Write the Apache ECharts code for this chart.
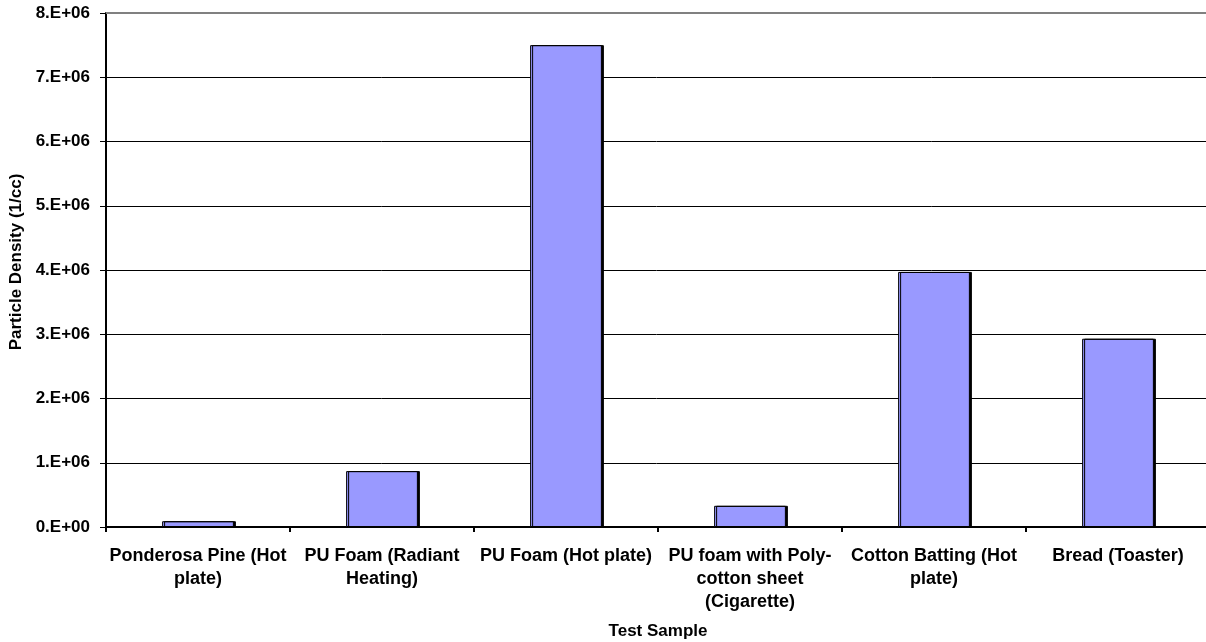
<!DOCTYPE html>
<html>
<head>
<meta charset="utf-8">
<script src="https://cdn.jsdelivr.net/npm/echarts@6/dist/echarts.min.js"></script>
<style>
html,body{margin:0;padding:0;background:#fff;}
#chart{width:1206px;height:642px;}
</style>
</head>
<body>
<div id="chart"></div>
<script>
const categories = [
  "Ponderosa Pine (Hot\nplate)",
  "PU Foam (Radiant\nHeating)",
  "PU Foam (Hot plate)",
  "PU foam with Poly-\ncotton sheet\n(Cigarette)",
  "Cotton Batting (Hot\nplate)",
  "Bread (Toaster)"
];
const particleDensity = [9.0e4, 8.7e5, 7.5e6, 3.3e5, 3.97e6, 2.93e6];
const yMin = 0, yMax = 8e6, yStep = 1e6;
const xTitle = "Test Sample";
const yTitle = "Particle Density (1/cc)";

function sci(v) {
  if (v === 0) return "0.E+00";
  const e = Math.floor(Math.log10(v));
  const m = Math.round(v / Math.pow(10, e));
  return m + ".E+" + String(e).padStart(2, "0");
}

const chart = echarts.init(document.getElementById('chart'), null, {renderer: 'canvas'});
const font = 'Arial, "Liberation Sans", sans-serif';
chart.setOption({
  animation: false,
  backgroundColor: '#fff',
  grid: {left: 106, right: -4, top: 13, bottom: 115, containLabel: false, outerBoundsMode: 'none'},
  xAxis: {
    type: 'category',
    data: categories,
    name: xTitle,
    nameLocation: 'middle',
    nameGap: 96,
    nameTextStyle: {fontFamily: font, fontWeight: 'bold', fontSize: 17, color: '#000'},
    axisLine: {lineStyle: {color: '#000', width: 2}},
    axisTick: {show: true, alignWithLabel: false, length: 5, lineStyle: {color: '#000', width: 2}},
    axisLabel: {interval: 0, margin: 18, fontFamily: font, fontWeight: 'bold', fontSize: 18, lineHeight: 23, color: '#000', align: 'center'},
    splitLine: {show: false}
  },
  yAxis: {
    type: 'value',
    min: yMin, max: yMax, interval: yStep,
    name: yTitle,
    nameLocation: 'middle',
    nameGap: 80,
    nameTextStyle: {fontFamily: font, fontWeight: 'bold', fontSize: 17, color: '#000', padding: [0, 0, 0, 16]},
    axisLine: {show: true, lineStyle: {color: '#000', width: 2}},
    axisTick: {show: true, length: 6, lineStyle: {color: '#000', width: 1}},
    axisLabel: {formatter: sci, margin: 16, fontFamily: font, fontWeight: 'bold', fontSize: 17, color: '#000'},
    splitLine: {show: true, lineStyle: {color: '#000', width: 1}}
  },
  series: [{
    type: 'bar',
    data: particleDensity,
    barWidth: '39%',
    itemStyle: {color: '#9999FF', borderColor: '#000', borderWidth: 1, shadowColor: '#000', shadowOffsetX: 2, shadowOffsetY: 0, shadowBlur: 0},
    markLine: {
      silent: true, symbol: 'none', label: {show: false},
      lineStyle: {color: '#808080', width: 2, type: 'solid'},
      data: [{yAxis: yMax}]
    }
  }]
});
</script>
</body>
</html>
